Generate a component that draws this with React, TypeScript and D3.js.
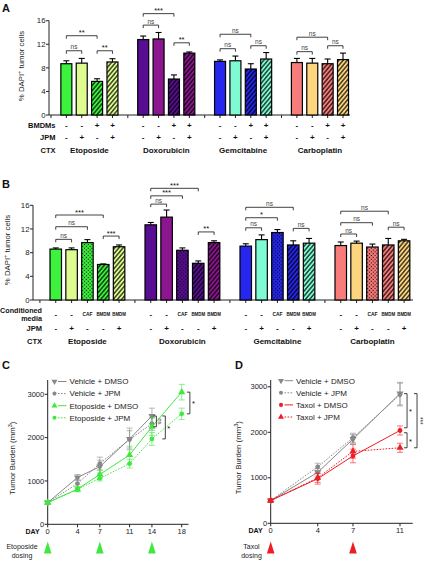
import React from "react";
import * as d3 from "d3";

// ---------- DATA ----------
const drugs = ["Etoposide", "Doxorubicin", "Gemcitabine", "Carboplatin"];
const drugColors = [
  ["#3DF23D", "#DDFB8E"],
  ["#570E93", "#8C1690"],
  ["#2626EE", "#7FFBD3"],
  ["#F77C7A", "#FCD57E"],
];

// Panel A
const aBMDMs = ["-", "-", "+", "+"];
const aJPM = ["-", "+", "-", "+"];
const aMeans = [
  [8.7, 8.8, 5.7, 9.0],
  [12.8, 12.9, 6.1, 10.5],
  [9.1, 9.2, 7.8, 9.5],
  [8.9, 8.8, 8.7, 9.4],
];
const aErrs = [
  [0.5, 0.8, 0.45, 0.55],
  [0.6, 1.1, 0.7, 0.2],
  [0.25, 0.8, 0.9, 1.1],
  [0.7, 0.8, 0.8, 1.1],
];
// [group, barFrom, barTo, level, label]
const aSig: [number, number, number, number, string][] = [
  [0, 0, 2, 13.45, "**"], [0, 0, 1, 10.9, "ns"], [0, 2, 3, 10.9, "**"],
  [1, 0, 2, 17.2, "***"], [1, 0, 1, 15.25, "ns"], [1, 2, 3, 12.25, "**"],
  [2, 0, 2, 13.7, "ns"], [2, 0, 1, 11.25, "ns"], [2, 2, 3, 11.75, "ns"],
  [3, 0, 2, 13.2, "ns"], [3, 0, 1, 10.75, "ns"], [3, 2, 3, 11.75, "ns"],
];
const aTicks = [0, 4, 8, 12, 16];

// Panel B
const bMedia = ["-", "-", "CAF", "BMDM", "BMDM"];
const bJPM = ["-", "+", "-", "-", "+"];
const bMeans = [
  [8.6, 8.5, 9.7, 6.0, 9.0],
  [12.7, 14.0, 8.4, 6.2, 9.7],
  [9.1, 10.2, 11.4, 9.3, 9.6],
  [9.2, 9.6, 8.95, 9.3, 10.0],
];
const bErrs = [
  [0.2, 0.3, 0.5, 0.1, 0.3],
  [0.4, 1.2, 0.4, 0.4, 0.3],
  [0.4, 0.8, 0.5, 0.7, 0.8],
  [0.6, 0.35, 0.5, 1.1, 0.25],
];
const bSig: [number, number, number, number, string][] = [
  [0, 0, 3, 14.36, "***"], [0, 0, 2, 12.38, "ns"], [0, 0, 1, 10.25, "ns"], [0, 3, 4, 10.8, "***"],
  [1, 0, 3, 18.87, "***"], [1, 0, 2, 17.6, "***"], [1, 0, 1, 16.2, "ns"], [1, 3, 4, 11.5, "**"],
  [2, 0, 3, 15.66, "ns"], [2, 0, 2, 13.9, "*"], [2, 0, 1, 12.2, "ns"], [2, 3, 4, 12.1, "ns"],
  [3, 0, 3, 15.0, "ns"], [3, 0, 2, 13.06, "ns"], [3, 0, 1, 11.15, "ns"], [3, 3, 4, 12.3, "ns"],
];
const bFillKinds = ["solid1", "solid2", "dots1", "hatch1", "hatch2"];

// Panel C
const cSeries = [
  { name: "Vehicle + DMSO", days: [0, 4, 7, 11, 14], mean: [500, 1080, 1330, 1970, 2500], err: [30, 70, 150, 250, 180], color: "#888888", symbol: "tdown", dash: false },
  { name: "Vehicle + JPM", days: [0, 4, 7, 11, 14], mean: [500, 940, 1400, 1960, 2320], err: [30, 100, 150, 200, 150], color: "#888888", symbol: "circle", dash: true },
  { name: "Etoposide + DMSO", days: [0, 4, 7, 11, 14, 18], mean: [500, 810, 1150, 1600, 2250, 3050], err: [30, 60, 100, 200, 200, 180], color: "#3FE83F", symbol: "tup", dash: false },
  { name: "Etoposide + JPM", days: [0, 4, 7, 11, 14, 18], mean: [500, 810, 1060, 1400, 1970, 2550], err: [30, 50, 60, 100, 150, 130], color: "#3FE83F", symbol: "circle", dash: true },
];
const cDayTicks = [0, 4, 7, 11, 14, 18];
const cDosing = [0, 7, 14];
const cYTicks = [0, 1000, 2000, 3000];
// [x day position, from, to, label, rotated]
const cSig: [number, number, number, string, boolean][] = [
  [19.1, 3050, 2550, "*", false],
  [14.6, 2500, 2250, "ns", true],
  [15.8, 2500, 1970, "*", false],
];

// Panel D
const dSeries = [
  { name: "Vehicle + DMSO", days: [0, 4, 7, 11], mean: [500, 1120, 1850, 2850], err: [30, 80, 100, 250], color: "#888888", symbol: "tdown", dash: false },
  { name: "Vehicle + JPM", days: [0, 4, 7, 11], mean: [500, 1240, 1880, 2830], err: [30, 80, 100, 250], color: "#888888", symbol: "circle", dash: true },
  { name: "Taxol + DMSO", days: [0, 4, 7, 11], mean: [500, 980, 1480, 2040], err: [30, 120, 150, 100], color: "#EE1D25", symbol: "circle", dash: false },
  { name: "Taxol + JPM", days: [0, 4, 7, 11], mean: [500, 1000, 1580, 1660], err: [30, 100, 150, 100], color: "#EE1D25", symbol: "tup", dash: true },
];
const dDayTicks = [0, 4, 7, 11];
const dDosing = [0, 7];
const dYTicks = [0, 1000, 2000, 3000];
const dSig: [number, number, number, string, boolean][] = [
  [11.6, 2850, 2100, "*", false],
  [11.6, 1990, 1660, "*", false],
  [12.45, 2850, 1660, "***", true],
];

// ---------- HELPERS ----------
const FONT = "'Liberation Sans', Arial, sans-serif";

function fillFor(g: number, kind: string) {
  if (kind === "solid1") return drugColors[g][0];
  if (kind === "solid2") return drugColors[g][1];
  if (kind === "dots1") return `url(#dots-${g}-0)`;
  if (kind === "hatch1") return `url(#hatch-${g}-0)`;
  return `url(#hatch-${g}-1)`;
}

function Patterns() {
  const out: React.ReactNode[] = [];
  drugColors.forEach((pair, g) => {
    pair.forEach((c, k) => {
      out.push(
        <pattern key={`h${g}${k}`} id={`hatch-${g}-${k}`} patternUnits="userSpaceOnUse" width={3.2} height={3.2} patternTransform="rotate(40)">
          <rect width={3.2} height={3.2} fill={c} />
          <line x1={0.8} y1={0} x2={0.8} y2={3.2} stroke="#000" strokeWidth={1.1} />
        </pattern>
      );
      out.push(
        <pattern key={`d${g}${k}`} id={`dots-${g}-${k}`} patternUnits="userSpaceOnUse" width={2.6} height={2.6} patternTransform="rotate(45)">
          <rect width={2.6} height={2.6} fill={c} />
          <circle cx={1.3} cy={1.3} r={0.65} fill="#000" />
        </pattern>
      );
    });
  });
  return <defs>{out}</defs>;
}

function Bracket({ x1, x2, y, label }: { x1: number; x2: number; y: number; label: string }) {
  const ns = label === "ns";
  return (
    <g>
      <path d={`M${x1},${y + 3}V${y}H${x2}V${y + 3}`} fill="none" stroke="#111" strokeWidth={0.8} />
      <text x={(x1 + x2) / 2} y={ns ? y - 1.5 : y - 0.5} textAnchor="middle" fontSize={ns ? 6.5 : 7.5} fill={ns ? "#444" : "#111"} fontFamily={FONT}>
        {label}
      </text>
    </g>
  );
}

function Bar({ x, w, y0, yTop, yErr, fill }: { x: number; w: number; y0: number; yTop: number; yErr: number; fill: string }) {
  return (
    <g>
      <line x1={x} x2={x} y1={yTop} y2={yErr} stroke="#000" strokeWidth={1.1} />
      <line x1={x - 3} x2={x + 3} y1={yErr} y2={yErr} stroke="#000" strokeWidth={1.1} />
      <rect x={x - w / 2} y={yTop} width={w} height={y0 - yTop} fill={fill} stroke="#000" strokeWidth={1.2} />
    </g>
  );
}

function YLabelDAPI({ x, y }: { x: number; y: number }) {
  return (
    <text transform={`translate(${x},${y}) rotate(-90)`} textAnchor="middle" fontSize={7.8} fontFamily={FONT} fill="#222">
      % DAPI<tspan dy={-3} fontSize={5.5}>+</tspan><tspan dy={3}> tumor cells</tspan>
    </text>
  );
}

function Symbol({ kind, x, y, color, s = 1 }: { kind: string; x: number; y: number; color: string; s?: number }) {
  if (kind === "circle") return <circle cx={x} cy={y} r={2.4 * s} fill={color} />;
  const p = d3.symbol().type(d3.symbolTriangle).size(22 * s * s)();
  return <path d={p || ""} transform={`translate(${x},${y})${kind === "tdown" ? " rotate(180)" : ""}`} fill={color} />;
}

// ---------- APP ----------
export default function App() {
  // Panel A scales
  const aX = d3.scaleBand<number>().domain(d3.range(20)).range([43.3, 350.7]);
  const aY = d3.scaleLinear().domain([0, 16]).range([115, 20.7]);
  const aC = (g: number, k: number) => (aX(g * 5 + 1 + k) as number) + aX.bandwidth() / 2;
  const aSlotX = (i: number) => (aX(i) as number) + aX.bandwidth() / 2;

  // Panel B scales
  const bX = d3.scaleBand<number>().domain(d3.range(24)).range([32, 412]);
  const bY = d3.scaleLinear().domain([0, 16]).range([300, 205.3]);
  const bC = (g: number, k: number) => (bX(g * 6 + 1 + k) as number) + bX.bandwidth() / 2;
  const bSlotX = (i: number) => (bX(i) as number) + bX.bandwidth() / 2;

  // Panel C scales
  const cX = d3.scaleLinear().domain([0, 18]).range([47.7, 181.7]);
  const cY = d3.scaleLinear().domain([0, 3000]).range([524.3, 394.3]);
  // Panel D scales
  const dX = d3.scaleLinear().domain([0, 11]).range([270.7, 400]);
  const dY = d3.scaleLinear().domain([0, 3000]).range([523.3, 386.8]);

  const line = (xs: d3.ScaleLinear<number, number>, ys: d3.ScaleLinear<number, number>, days: number[], vals: number[]) =>
    d3.line<number>().x((_, i) => xs(days[i])).y((v) => ys(v))(vals) || "";

  const growthPanel = (
    series: typeof cSeries,
    xs: d3.ScaleLinear<number, number>,
    ys: d3.ScaleLinear<number, number>,
    dayTicks: number[],
    yTicks: number[],
    axisEnd: number,
    axisTop: number,
    legendX: number,
    legendY: number,
    sig: [number, number, number, string, boolean][],
    dosing: number[],
    dosingColor: string,
    dosingLabel: string,
    dosingLabelX: number,
    yLabelX: number
  ) => {
    const x0 = xs.range()[0];
    const y0 = ys.range()[0];
    return (
      <g>
        <line x1={x0} x2={x0} y1={axisTop} y2={y0} stroke="#222" strokeWidth={1} />
        {yTicks.map((t) => (
          <g key={t}>
            <line x1={x0 - 3} x2={x0} y1={ys(t)} y2={ys(t)} stroke="#222" strokeWidth={1} />
            <text x={x0 - 3.5} y={ys(t) + 2.6} textAnchor="end" fontSize={7.5} fontFamily={FONT} fill="#222">{t}</text>
          </g>
        ))}
        <text transform={`translate(${yLabelX},${(y0 + axisTop) / 2 + 6}) rotate(-90)`} textAnchor="middle" fontSize={7.8} fontFamily={FONT} fill="#222">
          Tumor Burden (mm<tspan dy={-3} fontSize={5.5}>3</tspan><tspan dy={3}>)</tspan>
        </text>
        <line x1={x0} x2={axisEnd} y1={y0} y2={y0} stroke="#222" strokeWidth={1} />
        {dayTicks.map((t) => (
          <g key={t}>
            <line x1={xs(t)} x2={xs(t)} y1={y0} y2={y0 + 3} stroke="#222" strokeWidth={1} />
            <text x={xs(t)} y={y0 + 9.5} textAnchor="middle" fontSize={7.5} fontFamily={FONT} fill="#222">{t}</text>
          </g>
        ))}
        <text x={x0 - 8} y={y0 + 9.5} textAnchor="end" fontSize={7} fontWeight="bold" fontFamily={FONT} fill="#111">DAY</text>
        {series.map((s, si) => (
          <g key={si}>
            <path d={line(xs, ys, s.days, s.mean)} fill="none" stroke={s.color} strokeWidth={1} strokeDasharray={s.dash ? "1.6,1.4" : undefined} />
            {s.mean.map((m, i) => (
              <g key={i} opacity={0.75}>
                <line x1={xs(s.days[i])} x2={xs(s.days[i])} y1={ys(m - s.err[i])} y2={ys(m + s.err[i])} stroke={s.color} strokeWidth={0.8} />
                <line x1={xs(s.days[i]) - 3} x2={xs(s.days[i]) + 3} y1={ys(m + s.err[i])} y2={ys(m + s.err[i])} stroke={s.color} strokeWidth={0.8} />
                <line x1={xs(s.days[i]) - 3} x2={xs(s.days[i]) + 3} y1={ys(m - s.err[i])} y2={ys(m - s.err[i])} stroke={s.color} strokeWidth={0.8} />
              </g>
            ))}
            {s.mean.map((m, i) => (
              <Symbol key={"s" + i} kind={s.symbol} x={xs(s.days[i])} y={ys(m)} color={s.color} />
            ))}
          </g>
        ))}
        {series.map((s, si) => {
          const ly = legendY + si * 12.1;
          return (
            <g key={"l" + si}>
              <Symbol kind={s.symbol} x={legendX} y={ly} color={s.color} s={0.85} />
              <line x1={legendX + 3.5} x2={legendX + 12} y1={ly} y2={ly} stroke={s.color} strokeWidth={1} strokeDasharray={s.dash ? "1.6,1.4" : undefined} />
              <text x={legendX + 15} y={ly + 2.8} fontSize={8} fontFamily={FONT} fill="#222">{s.name}</text>
            </g>
          );
        })}
        {sig.map(([d, v1, v2, lab, rot], i) => {
          const x = xs(d);
          const ya = ys(v1), yb = ys(v2);
          return (
            <g key={"g" + i}>
              <path d={`M${x - 3},${ya}H${x}V${yb}H${x - 3}`} fill="none" stroke="#111" strokeWidth={0.8} />
              {rot ? (
                <text transform={`translate(${x + 1.3},${(ya + yb) / 2}) rotate(90)`} textAnchor="middle" fontSize={lab === "ns" ? 6 : 6.5} fontFamily={FONT} fill="#333">{lab}</text>
              ) : (
                <text x={x + 2} y={(ya + yb) / 2 + 3.5} fontSize={7.5} fontFamily={FONT} fill="#111">{lab}</text>
              )}
            </g>
          );
        })}
        {dosing.map((d, i) => (
          <path key={"dz" + i} d={`M${xs(d) - 3.8},553.5L${xs(d)},541.5L${xs(d) + 3.8},553.5Z`} fill={dosingColor} />
        ))}
        <text x={dosingLabelX} y={549} textAnchor="middle" fontSize={7} fontFamily={FONT} fill="#222">{dosingLabel}</text>
        <text x={dosingLabelX} y={558} textAnchor="middle" fontSize={7} fontFamily={FONT} fill="#222">dosing</text>
      </g>
    );
  };

  return (
    <svg width={424} height={561} style={{ position: "absolute", left: 0, top: 0, background: "#fff" }} fontFamily={FONT}>
      <Patterns />
      <rect width={424} height={561} fill="#fff" />

      {/* ===== Panel A ===== */}
      <text x={2} y={12} fontSize={11} fontWeight="bold" fill="#111">A</text>
      <line x1={49} x2={49} y1={aY(16)} y2={aY(0)} stroke="#222" strokeWidth={1} />
      {aTicks.map((t) => (
        <g key={t}>
          <line x1={46} x2={49} y1={aY(t)} y2={aY(t)} stroke="#222" strokeWidth={1} />
          <text x={45.5} y={aY(t) + 2.7} textAnchor="end" fontSize={7.8} fill="#222">{t}</text>
        </g>
      ))}
      <YLabelDAPI x={24} y={66} />
      <line x1={49} x2={350} y1={aY(0)} y2={aY(0)} stroke="#222" strokeWidth={1} />
      {d3.range(20).map((i) => (
        <line key={i} x1={aSlotX(i)} x2={aSlotX(i)} y1={aY(0)} y2={aY(0) + 3} stroke="#222" strokeWidth={1} />
      ))}
      {aMeans.map((grp, g) =>
        grp.map((m, k) => (
          <Bar key={`a${g}${k}`} x={aC(g, k)} w={11} y0={aY(0)} yTop={aY(m)} yErr={aY(m + aErrs[g][k])} fill={k < 2 ? drugColors[g][k] : `url(#hatch-${g}-${k - 2})`} />
        ))
      )}
      {aSig.map(([g, i, j, lv, lab], n) => (
        <Bracket key={"as" + n} x1={aC(g, i)} x2={aC(g, j)} y={aY(lv)} label={lab} />
      ))}
      <text x={55.5} y={128} textAnchor="end" fontSize={7.5} fontWeight="bold" fill="#111">BMDMs</text>
      <text x={55.5} y={140} textAnchor="end" fontSize={7.5} fontWeight="bold" fill="#111">JPM</text>
      <text x={55.5} y={153} textAnchor="end" fontSize={7.5} fontWeight="bold" fill="#111">CTX</text>
      {drugs.map((dn, g) => (
        <g key={"al" + g}>
          {aBMDMs.map((s, k) => (
            <text key={"b" + k} x={aC(g, k)} y={128} textAnchor="middle" fontSize={8} fontWeight="bold" fill="#111">{s}</text>
          ))}
          {aJPM.map((s, k) => (
            <text key={"j" + k} x={aC(g, k)} y={140} textAnchor="middle" fontSize={8} fontWeight="bold" fill="#111">{s}</text>
          ))}
          <text x={(aC(g, 0) + aC(g, 3)) / 2} y={153} textAnchor="middle" fontSize={8} fontWeight="bold" fill="#111">{dn}</text>
        </g>
      ))}

      {/* ===== Panel B ===== */}
      <text x={2} y={188} fontSize={11} fontWeight="bold" fill="#111">B</text>
      <line x1={33} x2={33} y1={bY(16)} y2={bY(0)} stroke="#222" strokeWidth={1} />
      {aTicks.map((t) => (
        <g key={t}>
          <line x1={30} x2={33} y1={bY(t)} y2={bY(t)} stroke="#222" strokeWidth={1} />
          <text x={29.5} y={bY(t) + 2.7} textAnchor="end" fontSize={7.8} fill="#222">{t}</text>
        </g>
      ))}
      <YLabelDAPI x={10} y={250} />
      <line x1={33} x2={413} y1={bY(0)} y2={bY(0)} stroke="#222" strokeWidth={1} />
      {d3.range(24).map((i) => (
        <line key={i} x1={bSlotX(i)} x2={bSlotX(i)} y1={bY(0)} y2={bY(0) + 3} stroke="#222" strokeWidth={1} />
      ))}
      {bMeans.map((grp, g) =>
        grp.map((m, k) => (
          <Bar key={`b${g}${k}`} x={bC(g, k)} w={11.5} y0={bY(0)} yTop={bY(m)} yErr={bY(m + bErrs[g][k])} fill={fillFor(g, bFillKinds[k])} />
        ))
      )}
      {bSig.map(([g, i, j, lv, lab], n) => (
        <Bracket key={"bs" + n} x1={bC(g, i)} x2={bC(g, j)} y={bY(lv)} label={lab} />
      ))}
      <text x={42} y={312.5} textAnchor="end" fontSize={7.2} fontWeight="bold" fill="#111">Conditioned</text>
      <text x={42} y={320.5} textAnchor="end" fontSize={7.2} fontWeight="bold" fill="#111">media</text>
      <text x={42} y={331} textAnchor="end" fontSize={7.5} fontWeight="bold" fill="#111">JPM</text>
      <text x={42} y={344} textAnchor="end" fontSize={7.5} fontWeight="bold" fill="#111">CTX</text>
      {drugs.map((dn, g) => (
        <g key={"bl" + g}>
          {bMedia.map((s, k) =>
            s === "-" ? (
              <text key={"m" + k} x={bC(g, k)} y={316.5} textAnchor="middle" fontSize={8} fontWeight="bold" fill="#111">{s}</text>
            ) : (
              <text key={"m" + k} x={bC(g, k)} y={316} textAnchor="middle" fontSize={5} fontWeight="bold" fill="#111"
                textLength={s === "CAF" ? 10 : 13.6} lengthAdjust="spacingAndGlyphs">{s}</text>
            )
          )}
          {bJPM.map((s, k) => (
            <text key={"j" + k} x={bC(g, k)} y={331} textAnchor="middle" fontSize={8} fontWeight="bold" fill="#111">{s}</text>
          ))}
          <text x={(bC(g, 0) + bC(g, 4)) / 2} y={344} textAnchor="middle" fontSize={8} fontWeight="bold" fill="#111">{dn}</text>
        </g>
      ))}

      {/* ===== Panel C ===== */}
      <text x={2} y={369} fontSize={11} fontWeight="bold" fill="#111">C</text>
      {growthPanel(cSeries, cX, cY, cDayTicks, cYTicks, 188.5, 380, 54.5, 381.5, cSig, cDosing, "#3FE83F", "Etoposide", 22, 15)}

      {/* ===== Panel D ===== */}
      <text x={235} y={369} fontSize={11} fontWeight="bold" fill="#111">D</text>
      {growthPanel(dSeries, dX, dY, dDayTicks, dYTicks, 412.7, 380, 281, 380.7, dSig, dDosing, "#EE1D25", "Taxol", 251.5, 241)}
    </svg>
  );
}
